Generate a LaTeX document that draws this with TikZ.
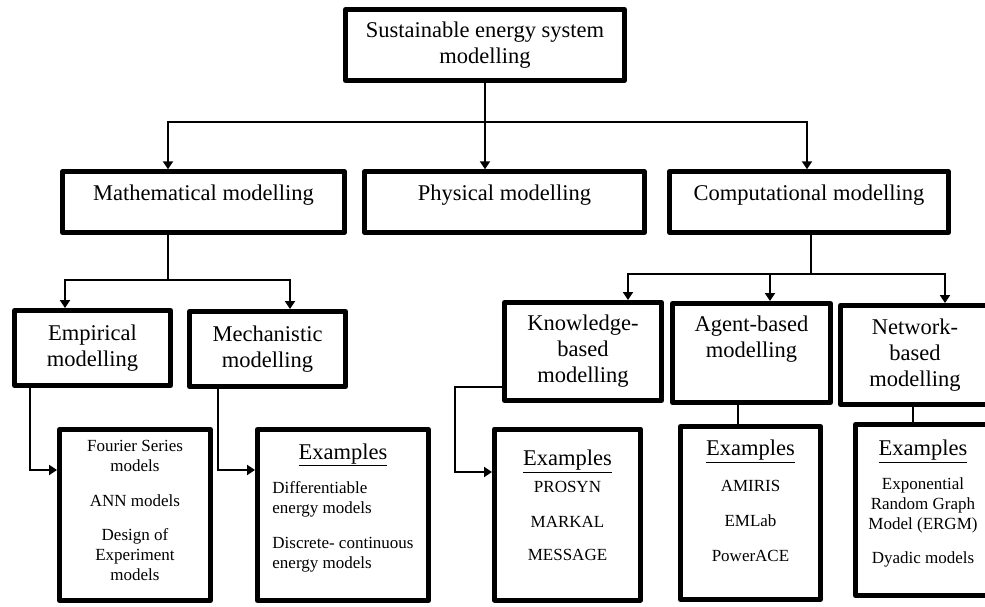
\documentclass[tikz,border=0pt]{standalone}
\usepackage{fontspec}
\setmainfont{Liberation Serif}
\usetikzlibrary{arrows.meta,positioning,calc}
\newcommand{\exhead}{{\fontsize{22.5}{26}\selectfont\underline{Examples}}}

\begin{document}
\begin{tikzpicture}
[x=1pt,y=-1pt,
box/.style={draw,line width=5pt,line join=round,rectangle,align=center,inner sep=0pt,font=\fontsize{22.5}{26}\selectfont},
headbox/.style={box,minimum height=60.5pt},
exbox/.style={box,font=\fontsize{17}{20}\selectfont,minimum height=171pt},
link/.style={draw,line width=2.6pt},
>={Triangle[length=8pt,width=10pt]}]
\useasboundingbox (0,0) rectangle (985,607);
\node[box,minimum width=279pt,minimum height=71pt] (top) at (485,45) {Sustainable energy system\\modelling};
\node[headbox,minimum width=282pt] (math) at (203.5,202) {Mathematical modelling\\[-7pt]};
\node[headbox,minimum width=280pt] (phys) at (504.5,202) {Physical modelling\\[-7pt]};
\node[headbox,minimum width=279pt] (comp) at (809,202) {Computational modelling\\[-7pt]};
\node[box,minimum width=156pt,minimum height=75pt] (emp) at (92.5,348) {Empirical\\modelling};
\node[box,minimum width=156pt,minimum height=75pt] (mech) at (267.5,349) {Mechanistic\\modelling};
\node[box,minimum width=157pt,minimum height=98pt] (know) at (583,351.5) {Knowledge-\\based\\modelling};
\node[box,minimum width=158pt,minimum height=99pt] (agent) at (751.5,353) {Agent-based\\modelling\\[6pt]};
\node[box,minimum width=149pt,minimum height=99pt] (net) at (915,355) {Network-\\based\\modelling};
\node[exbox,minimum width=151pt] (four) at (135,515) {Fourier Series\\models\\[14.5pt]ANN models\\[14.5pt]Design of\\Experiment\\models\\[-11pt]};
\node[exbox,minimum width=171pt,align=left] (mex) at (343,515) {\makebox[141pt]{\exhead}\\[14pt]Differentiable\\energy models\\[15pt]Discrete- continuous\\energy models\\[-2pt]};
\node[exbox,minimum width=146pt] (kex) at (567.5,514.5) {\exhead\\[7pt]PROSYN\\[15pt]MARKAL\\[13pt]MESSAGE\\[-2pt]};
\node[exbox,minimum width=140pt,minimum height=173pt] (aex) at (750.5,513) {\exhead\\[16pt]AMIRIS\\[15pt]EMLab\\[15pt]PowerACE\\[4pt]};
\node[exbox,minimum width=135pt] (nex) at (923,510) {\exhead\\[14pt]Exponential\\Random Graph\\Model (ERGM)\\[14pt]Dyadic models\\[-4pt]};

\coordinate (ml) at (168,122);
\coordinate (cl) at (807,122);
\draw[link,->] (top.south) -- (top.south |- phys.north);
\draw[link,->] (cl) -- (ml) -- (ml |- math.north);
\draw[link,->] (ml) -- (cl) -- (cl |- comp.north);

\coordinate (mj) at (168,280);
\coordinate (e1) at (65,280);
\coordinate (m1) at (290,280);
\draw[link] (mj |- math.south) -- (mj);
\draw[link,->] (m1) -- (e1) -- (e1 |- emp.north);
\draw[link,->] (e1) -- (m1) -- (m1 |- mech.north);

\coordinate (cj) at (811,274);
\coordinate (k1) at (628,274);
\coordinate (a1) at (770,274);
\coordinate (n1) at (945,274);
\draw[link] (cj |- comp.south) -- (cj);
\draw[link,->] (n1) -- (k1) -- (k1 |- know.north);
\draw[link,->] (k1) -- (n1) -- (n1 |- net.north);
\draw[link,->] (a1) -- (a1 |- agent.north);

\coordinate (e2) at (30,470);
\coordinate (m2) at (218,470);
\coordinate (k2) at (455,387);
\coordinate (k3) at (455,472);
\coordinate (a2) at (738,415);
\coordinate (n2) at (913,415);
\draw[link,->] (e2 |- emp.south) -- (e2) -- (e2 -| four.west);
\draw[link,->] (m2 |- mech.south) -- (m2) -- (m2 -| mex.west);
\draw[link,->] (k2 -| know.west) -- (k2) -- (k3) -- (k3 -| kex.west);
\draw[link] (a2 |- agent.south) -- (a2 |- aex.north);
\draw[link] (n2 |- net.south) -- (n2 |- nex.north);
\end{tikzpicture}
\end{document}
